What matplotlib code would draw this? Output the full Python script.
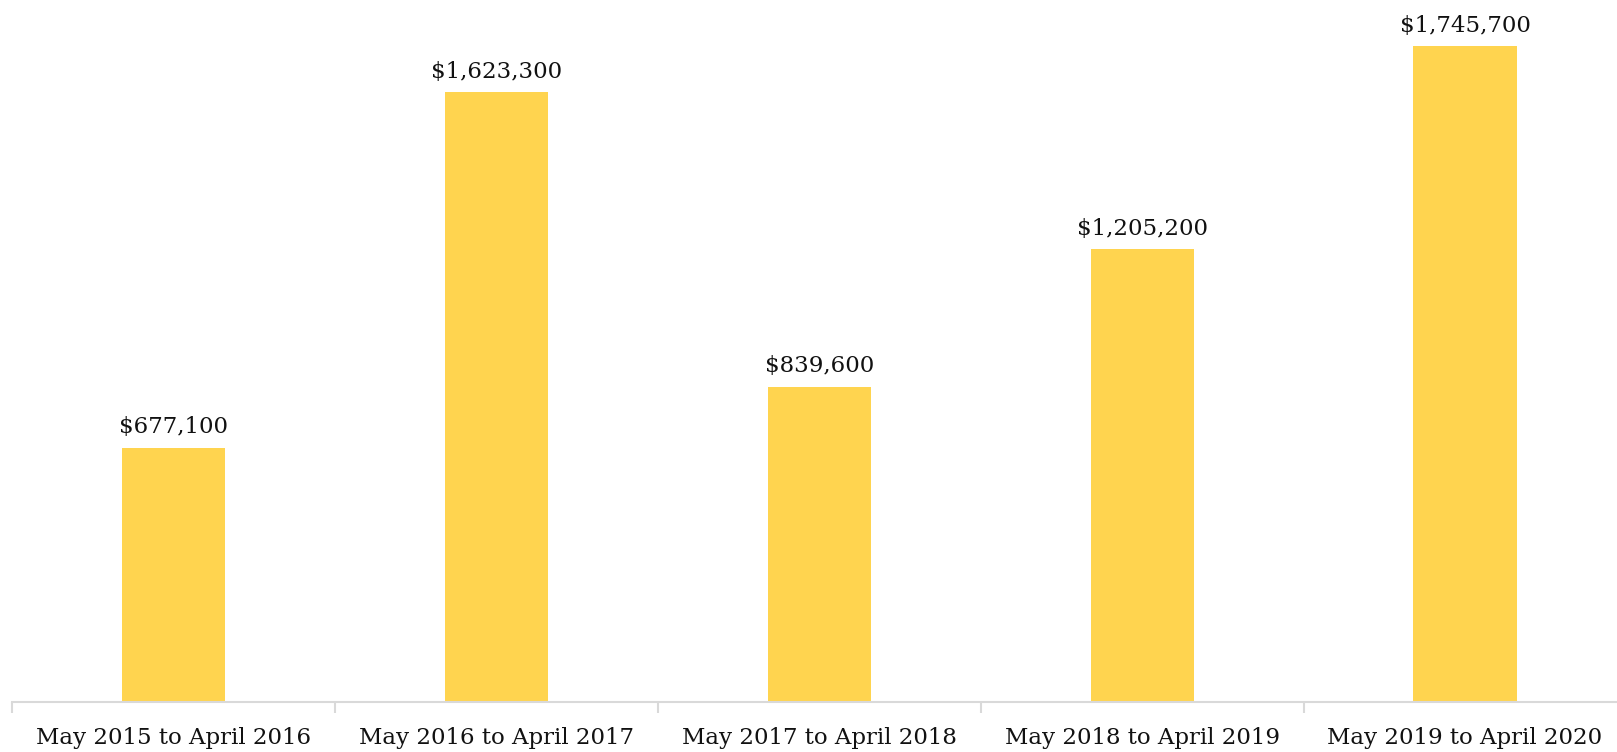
import numpy as np
import matplotlib.pyplot as plt

periods = ["May 2015 to April 2016", "May 2016 to April 2017", "May 2017 to April 2018",
           "May 2018 to April 2019", "May 2019 to April 2020"]
amounts = [677100, 1623300, 839600, 1205200, 1745700]

plt.rcParams['font.family'] = ['DejaVu Serif']

W, H = 1617, 752
fig = plt.figure(figsize=(W / 100, H / 100), dpi=100)
# axis runs slightly past the right edge, like the original layout
left, base, step = 12.4, 702, 322.8
ax = fig.add_axes([left / W, (H - base) / H, 5 * step / W, base / H])

x = np.arange(len(periods))
ax.bar(x, amounts, width=0.32, color='#FFD44F')
ax.set_xlim(-0.5, 4.5)
ax.set_ylim(0, 1745700 * base / (base - 46.4))

for xi, v in zip(x, amounts):
    ax.annotate(f"${v:,}", (xi, v), xytext=(0, 7), textcoords='offset points',
                ha='center', va='bottom', fontsize=16.5, color='#111111')

for s in ['top', 'right', 'left']:
    ax.spines[s].set_visible(False)
ax.spines['bottom'].set_color('#d9d9d9')
ax.spines['bottom'].set_linewidth(1.5)
ax.set_yticks([])

# tick marks sit between categories, labels in the middle
ax.set_xticks(np.arange(-0.5, 5, 1.0))
ax.set_xticklabels([])
ax.tick_params(axis='x', which='major', length=8, width=1.5, color='#d9d9d9')
ax.set_xticks(x, minor=True)
ax.set_xticklabels(periods, minor=True, fontsize=16.5, color='#111111')
ax.tick_params(axis='x', which='minor', length=0, pad=18)

fig.savefig('out.png', dpi=100)
